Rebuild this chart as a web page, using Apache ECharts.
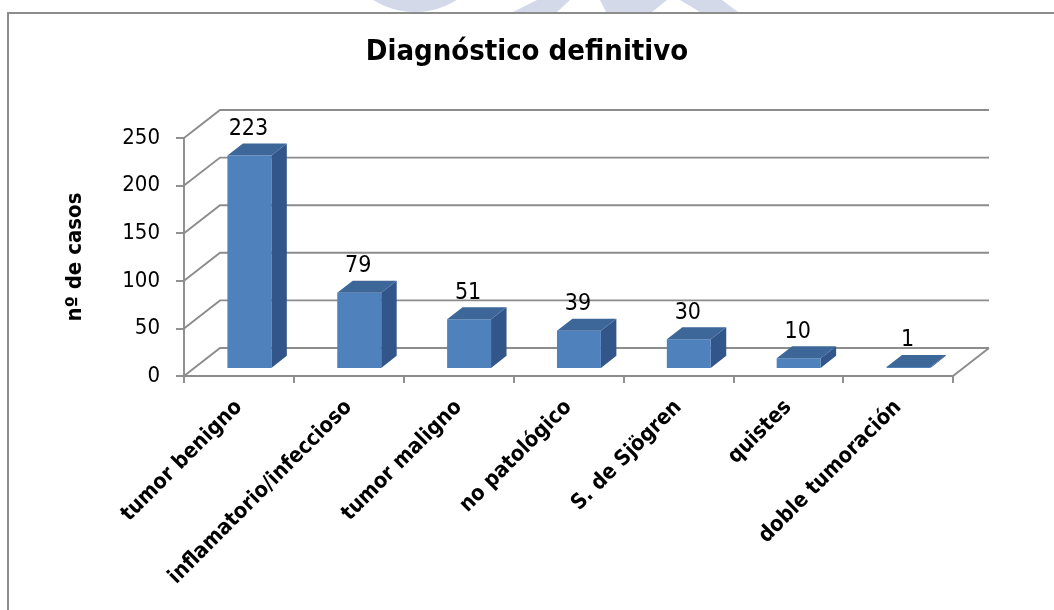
<!DOCTYPE html>
<html>
<head>
<meta charset="utf-8">
<script src="https://cdn.jsdelivr.net/npm/echarts@6/dist/echarts.min.js"></script>
<style>
  html, body { margin: 0; padding: 0; background: #fff; }
  #chart { width: 1054px; height: 610px; }
</style>
</head>
<body>
<div id="chart"></div>
<script>
// Diagnóstico definitivo: number of cases per final diagnosis
const categories = ['tumor benigno', 'inflamatorio/infeccioso', 'tumor maligno', 'no patológico', 'S. de Sjögren', 'quistes', 'doble tumoración'];
const casos = [223, 79, 51, 39, 30, 10, 1];
const yTicks = [0, 50, 100, 150, 200, 250];

// Depth of the pseudo-3D box (back wall offset from the front plane)
const DX = 36, DY = -28;
// Bars sit in the middle of the depth
const BAR_FRONT = 0.29, BAR_DEPTH = 0.43;

const FONT = '"DejaVu Sans Condensed", "DejaVu Sans", sans-serif';
const GRID_COLOR = '#8c8c8c';
const LINE_W = 1.9;
const FRONT = '#4f81bd', TOP = '#3d6699', SIDE = '#33568a';

const chart = echarts.init(document.getElementById('chart'));

// Walls: left side-wall diagonals and back-wall gridlines at each tick value
function renderWalls(params, api) {
  const cs = params.coordSys;
  const v = api.value(0);
  const y = api.coord([0, v])[1];
  const x0 = cs.x, x1 = cs.x + cs.width;
  const children = [{
    type: 'polyline',
    shape: { points: [[x0, y], [x0 + DX, y + DY], [x1 + DX, y + DY]] },
    style: { stroke: GRID_COLOR, lineWidth: LINE_W, fill: null }
  }];
  if (v === 0) {
    // right edge of the floor
    children.push({
      type: 'line',
      shape: { x1: x1, y1: y, x2: x1 + DX, y2: y + DY },
      style: { stroke: GRID_COLOR, lineWidth: LINE_W }
    });
  }
  return { type: 'group', children: children };
}

// 3D-looking bar: front face, top face, side face and value label
function renderBar(params, api) {
  const i = api.value(0), v = api.value(1);
  const top = api.coord([i, v]);
  const base = api.coord([i, 0]);
  const bw = api.size([1, 0])[0] * 0.4;
  const fx = DX * BAR_FRONT, fy = DY * BAR_FRONT;
  const tx = DX * BAR_DEPTH, ty = DY * BAR_DEPTH;
  const xl = top[0] - bw / 2 + fx, xr = xl + bw;
  const yt = top[1] + fy, yb = base[1] + fy;
  return {
    type: 'group',
    children: [
      {
        type: 'polygon',
        shape: { points: [[xr, yt], [xr + tx, yt + ty], [xr + tx, yb + ty], [xr, yb]] },
        style: { fill: SIDE }
      },
      {
        type: 'rect',
        shape: { x: xl, y: yt, width: bw, height: Math.max(yb - yt, 0.8) },
        style: { fill: FRONT }
      },
      {
        type: 'polygon',
        shape: { points: [[xl, yt], [xr, yt], [xr + tx, yt + ty], [xl + tx, yt + ty]] },
        style: { fill: TOP }
      },
      {
        type: 'text',
        style: {
          x: xl + bw / 2 - 1, y: yt + ty - 3,
          text: String(v),
          fill: '#000', font: '23px ' + FONT,
          textAlign: 'center', textVerticalAlign: 'bottom'
        }
      }
    ]
  };
}

const WM = '#d4d9e9';

chart.setOption({
  animation: false,
  backgroundColor: '#fff',
  title: {
    text: 'Diagnóstico definitivo',
    left: 'center',
    top: 33,
    textStyle: { fontFamily: FONT, fontSize: 29, fontWeight: 'bold', color: '#000' }
  },
  graphic: [
    // faint background emblem above the chart frame
    { type: 'circle', shape: { cx: 415, cy: -67, r: 79 }, style: { fill: WM }, z: -10 },
    { type: 'polygon', shape: { points: [[537, 0], [570, 0], [557, 12], [513, 12]] }, style: { fill: WM }, z: -10 },
    { type: 'polygon', shape: { points: [[600, 0], [667, 0], [652, 12], [606, 12]] }, style: { fill: WM }, z: -10 },
    { type: 'polygon', shape: { points: [[680, 0], [722, 0], [738, 12], [700, 12]] }, style: { fill: WM }, z: -10 },
    { type: 'rect', shape: { x: 0, y: 13, width: 1054, height: 600 }, style: { fill: '#fff' }, z: -9 },
    // chart frame
    {
      type: 'polyline',
      shape: { points: [[8, 612], [8, 13], [1056, 13]] },
      style: { stroke: '#8c8c8c', lineWidth: 2, fill: null },
      z: -8
    }
  ],
  grid: { left: 184, right: 101, top: 138, bottom: 234 },
  xAxis: {
    type: 'category',
    data: categories,
    boundaryGap: true,
    axisLine: { lineStyle: { color: GRID_COLOR, width: LINE_W } },
    axisTick: { show: true, length: 7, lineStyle: { color: GRID_COLOR, width: LINE_W } },
    axisLabel: {
      rotate: 45, interval: 0, margin: 28,
      fontFamily: FONT, fontSize: 21.5, fontWeight: 'bold', color: '#000'
    }
  },
  yAxis: {
    type: 'value',
    min: 0, max: 250, interval: 50,
    name: 'nº de casos',
    nameLocation: 'middle',
    nameRotate: 90,
    nameGap: 98,
    nameTextStyle: { fontFamily: FONT, fontSize: 22, fontWeight: 'bold', color: '#000' },
    axisLine: { show: true, lineStyle: { color: GRID_COLOR, width: LINE_W } },
    axisTick: { show: true, length: 8, lineStyle: { color: GRID_COLOR, width: LINE_W } },
    axisLabel: { margin: 24, fontFamily: FONT, fontSize: 22, color: '#000' },
    splitLine: { show: false }
  },
  series: [
    {
      type: 'custom',
      renderItem: renderWalls,
      data: yTicks.map(v => [v]),
      encode: { y: 0 },
      silent: true,
      z: 1
    },
    {
      type: 'custom',
      renderItem: renderBar,
      data: casos.map((v, i) => [i, v]),
      encode: { x: 0, y: 1 },
      clip: false,
      z: 3
    }
  ]
});
</script>
</body>
</html>
